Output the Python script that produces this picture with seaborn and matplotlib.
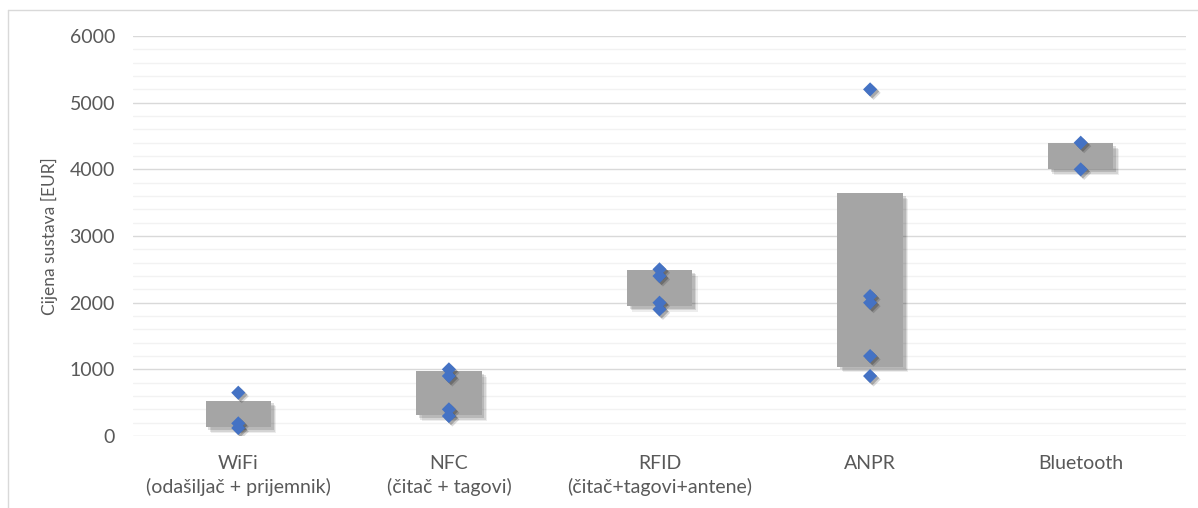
import matplotlib
matplotlib.use("Agg")
import matplotlib.pyplot as plt
import matplotlib.patheffects as pe
from matplotlib.ticker import MultipleLocator
import numpy as np
import pandas as pd
import seaborn as sns

# ---- data ----
categories = ["WiFi\n(odašiljač + prijemnik)", "NFC\n(čitač + tagovi)",
              "RFID\n(čitač+tagovi+antene)", "ANPR", "Bluetooth"]
range_low = [130, 310, 1950, 1040, 4000]
range_high = [530, 975, 2490, 3640, 4390]

point_category = (["WiFi\n(odašiljač + prijemnik)"] * 3 + ["NFC\n(čitač + tagovi)"] * 4 +
                  ["RFID\n(čitač+tagovi+antene)"] * 4 + ["ANPR"] * 5 + ["Bluetooth"] * 2)
point_values = [650, 190, 120,
                1000, 900, 400, 300,
                2500, 2400, 2000, 1900,
                5200, 2100, 2000, 1200, 900,
                4400, 4000]
y_label = "Cijena sustava [EUR]"

# ---- style ----
sns.set_theme(style="white")
plt.rcParams["font.family"] = ["Lato", "DejaVu Sans"]
text_color = "#595959"

fig = plt.figure(figsize=(11.98, 5.08), dpi=100)
ax = fig.add_axes([0.111, 0.1417, 0.879, 0.7873])

bars_df = pd.DataFrame({"cat": categories,
                        "low": range_low,
                        "span": np.array(range_high) - np.array(range_low)})
pts_df = pd.DataFrame({"cat": point_category, "val": point_values})

sns.barplot(data=bars_df, x="cat", y="span", bottom=bars_df["low"].values,
            order=categories, color="#A5A5A5", saturation=1, width=0.31,
            errorbar=None, ax=ax, zorder=3, linewidth=0)

bar_shadow = [pe.SimplePatchShadow(offset=(4, -4), shadow_rgbFace="#000000", alpha=0.07),
              pe.SimplePatchShadow(offset=(3, -3), shadow_rgbFace="#000000", alpha=0.10),
              pe.SimplePatchShadow(offset=(2, -2), shadow_rgbFace="#000000", alpha=0.13),
              pe.Normal()]
for p in ax.patches:
    p.set_path_effects(bar_shadow)

sns.stripplot(data=pts_df, x="cat", y="val", order=categories, jitter=False,
              marker="D", size=7.2, color="#4472C4", linewidth=0, ax=ax, zorder=4)
pt_shadow = [pe.SimplePatchShadow(offset=(2.5, -2.5), shadow_rgbFace="#000000", alpha=0.15),
             pe.SimplePatchShadow(offset=(1.5, -1.5), shadow_rgbFace="#000000", alpha=0.22),
             pe.Normal()]
for c in ax.collections:
    c.set_path_effects(pt_shadow)

ax.set_ylim(0, 6000)
ax.set_xlim(-0.5, 4.5)
ax.yaxis.set_major_locator(MultipleLocator(1000))
ax.yaxis.set_minor_locator(MultipleLocator(200))
ax.grid(which="major", axis="y", color="#D9D9D9", linewidth=1.0, zorder=0)
ax.grid(which="minor", axis="y", color="#F2F2F2", linewidth=1.0, zorder=0)
ax.grid(axis="x", visible=False)
ax.set_axisbelow(True)
for s in ax.spines.values():
    s.set_visible(False)

ax.tick_params(axis="both", which="both", length=0, labelsize=14, colors=text_color)
ax.tick_params(axis="y", pad=13)
ax.tick_params(axis="x", pad=14)
for lab in ax.get_xticklabels():
    lab.set_linespacing(1.35)
ax.set_xlabel("")
ax.set_ylabel(y_label, fontsize=12.5, color=text_color, labelpad=8)

# outer chart frame (top and left visible in reference)
fig.add_artist(plt.Line2D([8 / 1198, 1.0], [1 - 10 / 508, 1 - 10 / 508],
                          transform=fig.transFigure, color="#D9D9D9", linewidth=1))
fig.add_artist(plt.Line2D([8 / 1198, 8 / 1198], [0, 1 - 10 / 508],
                          transform=fig.transFigure, color="#D9D9D9", linewidth=1))

fig.savefig("out.png", dpi=100)
